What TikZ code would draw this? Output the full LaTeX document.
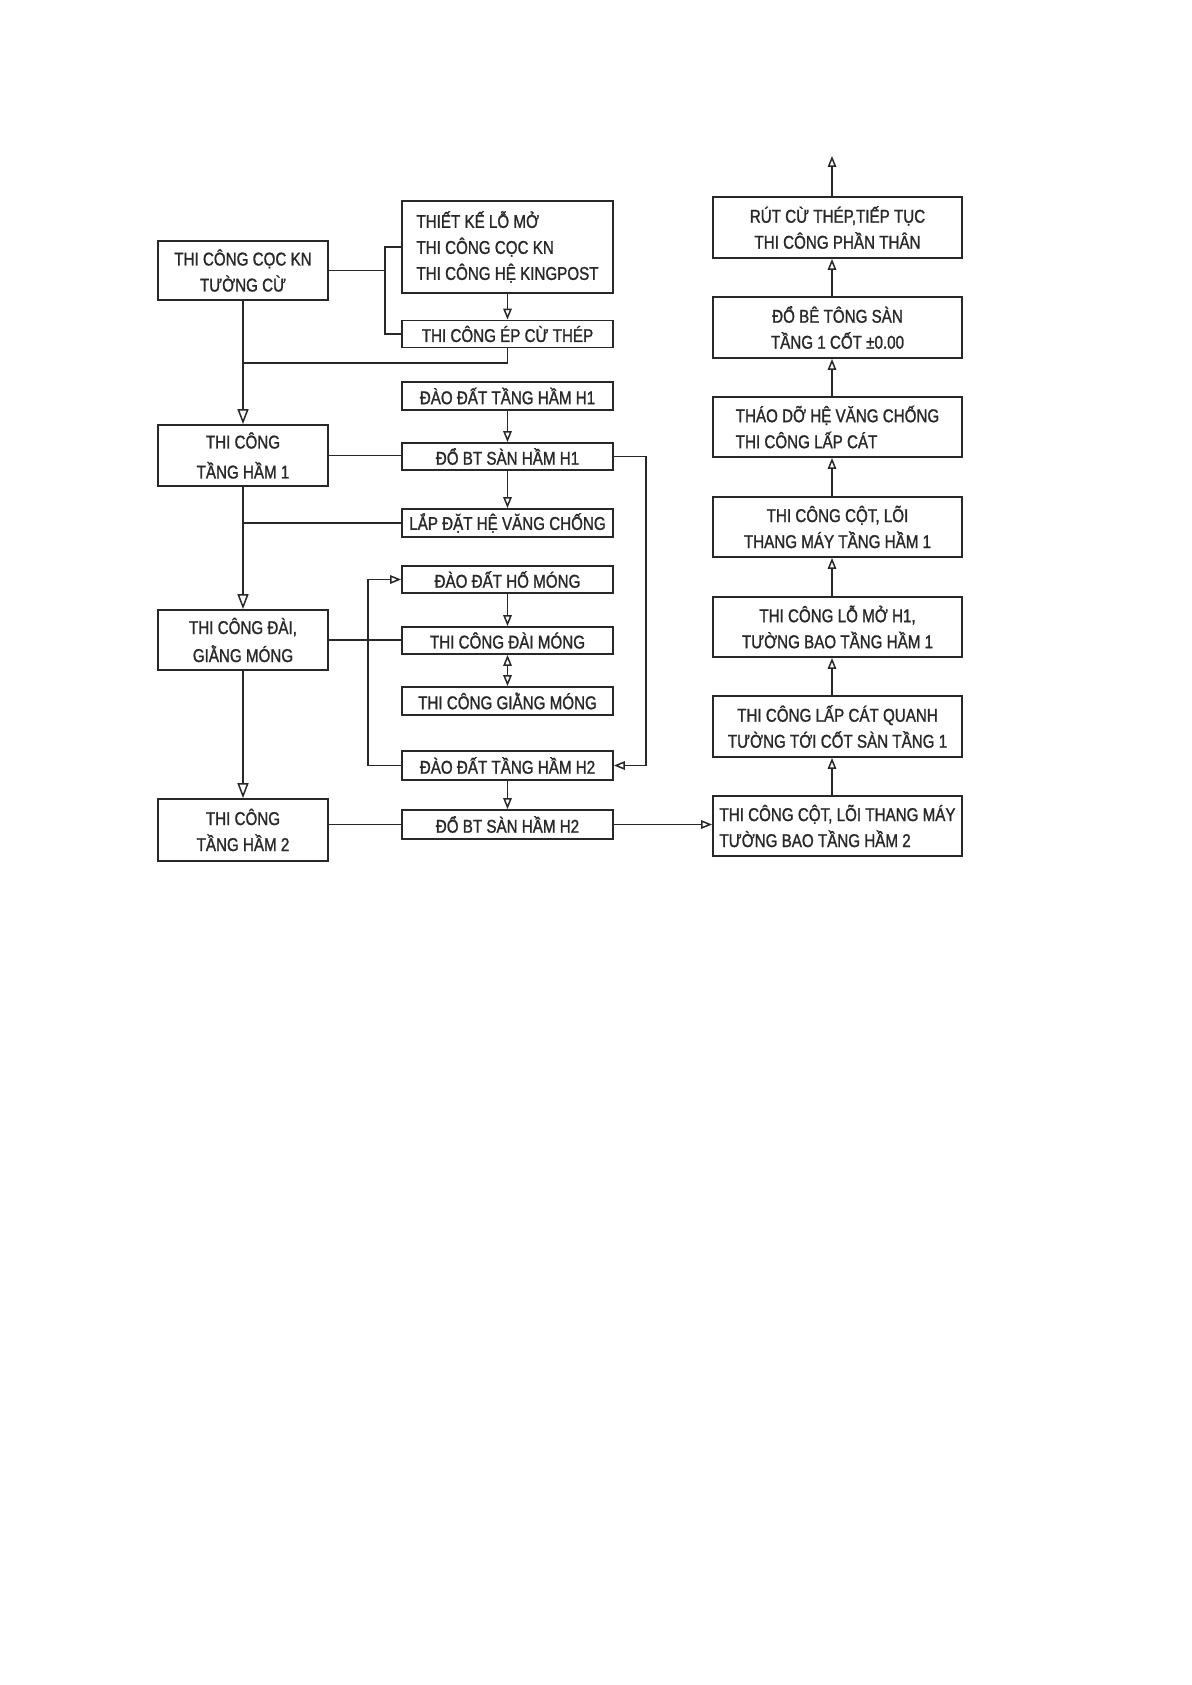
\documentclass[tikz,border=0pt]{standalone}
\usepackage{fontspec}
\setmainfont{Liberation Sans}[FakeStretch=0.82,FakeBold=1.2]
\usetikzlibrary{arrows.meta}
\definecolor{ink}{RGB}{40,40,40}
\tikzset{
  box/.style={draw=ink, line width=1.8pt, text=ink, inner sep=0pt, align=center,
    font=\fontsize{18.5}{26}\selectfont},
  lbox/.style={box, minimum width=170pt},
  mbox/.style={box, minimum width=211pt},
  rbox/.style={box, minimum width=249pt},
  conn/.style={draw=ink, line width=1.6pt},
  bigarr/.style={conn, -{Triangle[open, length=15pt, width=11pt, line width=1.5pt]}},
  smarr/.style={conn, -{Triangle[open, length=11pt, width=8.5pt, line width=1.5pt]}},
  dblarr/.style={conn, {Triangle[open, length=11pt, width=8.5pt, line width=1.5pt]}-{Triangle[open, length=11pt, width=8.5pt, line width=1.5pt]}}
}
\begin{document}
\begin{tikzpicture}[x=1pt,y=-1pt]
\useasboundingbox[fill=white] (0,0) rectangle (1191,1685);
% left column
\node[lbox, minimum height=59pt] (L1) at (243,270.5) {THI CÔNG CỌC KN\\TƯỜNG CỪ};
\node[lbox, minimum height=61pt, font=\fontsize{18.5}{30}\selectfont] (L2) at (243,455.5) {THI CÔNG\\TẦNG HẦM 1};
\node[lbox, minimum height=60pt, font=\fontsize{18.5}{28}\selectfont] (L3) at (243,640) {THI CÔNG ĐÀI,\\GIẰNG MÓNG};
\node[lbox, minimum height=62pt] (L4) at (243,830) {THI CÔNG\\TẦNG HẦM 2};
% middle column
\node[mbox, minimum height=92pt, align=left] (M1) at (507.5,247) {THIẾT KẾ LỖ MỞ\\THI CÔNG CỌC KN\\THI CÔNG HỆ KINGPOST};
\node[mbox, minimum height=27pt] (M2) at (507.5,334) {THI CÔNG ÉP CỪ THÉP};
\node[mbox, minimum height=28pt] (M3) at (507.5,396) {ĐÀO ĐẤT TẦNG HẦM H1};
\node[mbox, minimum height=27pt] (M4) at (507.5,456.5) {ĐỔ BT SÀN HẦM H1};
\node[mbox, minimum height=28pt] (M5) at (507.5,523) {LẮP ĐẶT HỆ VĂNG CHỐNG};
\node[mbox, minimum height=27pt] (M6) at (507.5,579.5) {ĐÀO ĐẤT HỐ MÓNG};
\node[mbox, minimum height=27pt] (M7) at (507.5,640.5) {THI CÔNG ĐÀI MÓNG};
\node[mbox, minimum height=28pt] (M8) at (507.5,701) {THI CÔNG GIẰNG MÓNG};
\node[mbox, minimum height=29pt] (M9) at (507.5,765.5) {ĐÀO ĐẤT TẦNG HẦM H2};
\node[mbox, minimum height=29pt] (M10) at (507.5,824.5) {ĐỔ BT SÀN HẦM H2};
% right column
\node[rbox, minimum height=61pt] (R1) at (837.5,227.5) {RÚT CỪ THÉP,TIẾP TỤC\\THI CÔNG PHẦN THÂN};
\node[rbox, minimum height=61pt] (R2) at (837.5,327.5) {ĐỔ BÊ TÔNG SÀN\\TẦNG 1 CỐT ±0.00};
\node[rbox, minimum height=60pt, align=left] (R3) at (837.5,427) {THÁO DỠ HỆ VĂNG CHỐNG\\THI CÔNG LẤP CÁT};
\node[rbox, minimum height=60pt] (R4) at (837.5,527) {THI CÔNG CỘT, LÕI\\THANG MÁY TẦNG HẦM 1};
\node[rbox, minimum height=60pt] (R5) at (837.5,627) {THI CÔNG LỖ MỞ H1,\\TƯỜNG BAO TẦNG HẦM 1};
\node[rbox, minimum height=61pt] (R6) at (837.5,726.5) {THI CÔNG LẤP CÁT QUANH\\TƯỜNG TỚI CỐT SÀN TẦNG 1};
\node[rbox, minimum height=60pt, align=left] (R7) at (837.5,826) {THI CÔNG CỘT, LÕI THANG MÁY\\TƯỜNG BAO TẦNG HẦM 2};
% helper coordinates
\coordinate (j1) at (385,270.5);
\coordinate (j2) at (507.5,363);
\coordinate (rv) at (646,0);
\coordinate (lv) at (368,0);
\coordinate (ax) at (832,0);
\coordinate (top) at (832,156);
% connectors: top group
\draw[conn] (L1.east) -- (j1);
\draw[conn] (M1.west) -| (j1) |- (M2.west);
\draw[smarr] (M1.south) -- (M2.north);
\draw[conn] (M2.south) -- (j2) -- (j2 -| L1.south);
% left spine
\draw[bigarr] (L1.south) -- (L2.north);
\draw[bigarr] (L2.south) -- (L3.north);
\draw[bigarr] (L3.south) -- (L4.north);
% tang ham 1 group
\draw[smarr] (M3.south) -- (M4.north);
\draw[smarr] (M4.south) -- (M5.north);
\draw[conn] (L2.east) -- (L2.east -| M4.west);
\draw[conn] (M5.west) -- (M5.west -| L2.south);
\draw[smarr] (M4.east) -| (rv |- M9.east) -- (M9.east);
% dai giang mong group
\draw[smarr] (M9.west) -| (lv |- M6.west) -- (M6.west);
\draw[smarr] (M6.south) -- (M7.north);
\draw[dblarr] (M7.south) -- (M8.north);
\draw[conn] (L3.east) -- (L3.east -| M7.west);
% tang ham 2 group
\draw[smarr] (M9.south) -- (M10.north);
\draw[conn] (L4.east |- M10.west) -- (M10.west);
\draw[smarr] (M10.east) -- (M10.east -| R7.west);
% right column
\draw[smarr] (R7.north -| ax) -- (R6.south -| ax);
\draw[smarr] (R6.north -| ax) -- (R5.south -| ax);
\draw[smarr] (R5.north -| ax) -- (R4.south -| ax);
\draw[smarr] (R4.north -| ax) -- (R3.south -| ax);
\draw[smarr] (R3.north -| ax) -- (R2.south -| ax);
\draw[smarr] (R2.north -| ax) -- (R1.south -| ax);
\draw[smarr] (R1.north -| ax) -- (top);
\end{tikzpicture}
\end{document}
